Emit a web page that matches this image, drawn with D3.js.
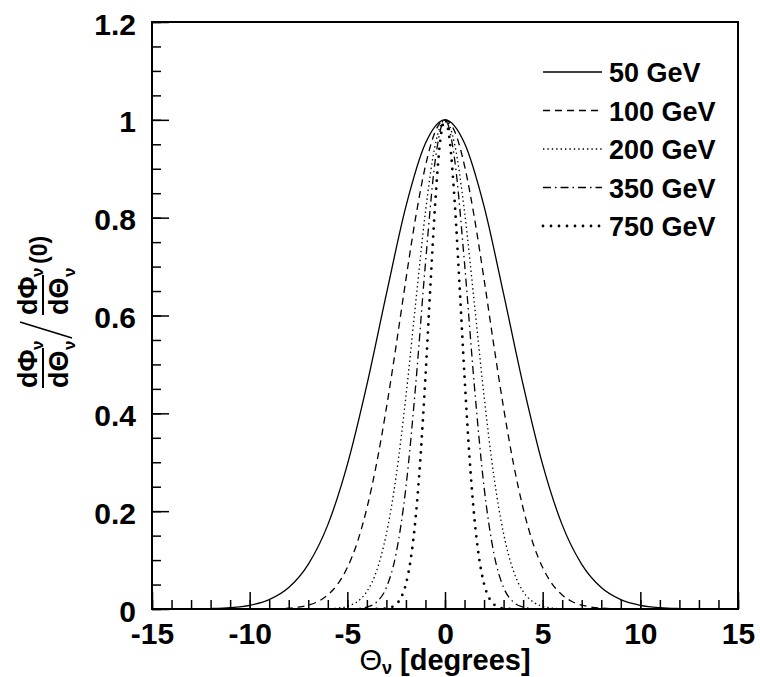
<!DOCTYPE html>
<html>
<head>
<meta charset="utf-8">
<script src="https://cdn.jsdelivr.net/npm/d3@7"></script>
<style>
  body { margin: 0; background: #fff; }
  text { font-family: "Liberation Sans", Arial, sans-serif; font-weight: bold; fill: #000; }
</style>
</head>
<body>
<div id="chart"></div>
<script>
// neutrino energies (legend labels)
const energies = ['50 GeV', '100 GeV', '200 GeV', '350 GeV', '750 GeV'];

// angle [deg] and normalised flux
const theta50 = [-15, -14, -13, -12, -11, -10, -9, -8, -7, -6, -5, -4, -3, -2, -1, 0,
  1, 2, 3, 4, 5, 6, 7, 8, 9, 10, 11, 12, 13, 14, 15];
const flux50 = [0, 0.0001, 0.0003, 0.0009, 0.0027, 0.0076, 0.0192, 0.0439, 0.0914, 0.172, 0.295, 0.458, 0.644, 0.823, 0.952, 1,
  0.952, 0.823, 0.644, 0.458, 0.295, 0.172, 0.0914, 0.0439, 0.0192, 0.0076, 0.0027, 0.0009, 0.0003, 0.0001, 0];

const theta100 = [-10, -9, -8, -7.5, -7, -6.5, -6, -5.5, -5, -4.5, -4, -3.5, -3, -2.5, -2, -1.5, -1, -0.5, 0,
  0.5, 1, 1.5, 2, 2.5, 3, 3.5, 4, 4.5, 5, 5.5, 6, 6.5, 7, 7.5, 8, 9, 10];
const flux100 = [0, 0.0003, 0.0018, 0.0039, 0.0079, 0.0154, 0.0286, 0.0504, 0.0847, 0.135, 0.206, 0.298, 0.411, 0.539, 0.674, 0.801, 0.906, 0.976, 1,
  0.976, 0.906, 0.801, 0.674, 0.539, 0.411, 0.298, 0.206, 0.135, 0.0847, 0.0504, 0.0286, 0.0154, 0.0079, 0.0039, 0.0018, 0.0003, 0];

const theta200 = [-7, -6, -5.5, -5, -4.5, -4, -3.5, -3, -2.5, -2, -1.5, -1, -0.5, 0,
  0.5, 1, 1.5, 2, 2.5, 3, 3.5, 4, 4.5, 5, 5.5, 6, 7];
const flux200 = [0, 0.0006, 0.0018, 0.0055, 0.0148, 0.0358, 0.0781, 0.154, 0.272, 0.435, 0.626, 0.812, 0.949, 1,
  0.949, 0.812, 0.626, 0.435, 0.272, 0.154, 0.0781, 0.0358, 0.0148, 0.0055, 0.0018, 0.0006, 0];

const theta350 = [-5, -4.5, -4, -3.5, -3, -2.5, -2, -1.5, -1, -0.5, 0,
  0.5, 1, 1.5, 2, 2.5, 3, 3.5, 4, 4.5, 5];
const flux350 = [0.0002, 0.0009, 0.0039, 0.0142, 0.0439, 0.114, 0.249, 0.458, 0.707, 0.917, 1,
  0.917, 0.707, 0.458, 0.249, 0.114, 0.0439, 0.0142, 0.0039, 0.0009, 0.0002];

const theta750 = [-3.5, -3, -2.75, -2.5, -2.25, -2, -1.75, -1.5, -1.25, -1, -0.75, -0.5, -0.25, 0,
  0.25, 0.5, 0.75, 1, 1.25, 1.5, 1.75, 2, 2.25, 2.5, 2.75, 3, 3.5];
const flux750 = [0.0001, 0.0012, 0.0036, 0.0096, 0.0232, 0.0511, 0.103, 0.188, 0.313, 0.475, 0.658, 0.830, 0.955, 1,
  0.955, 0.830, 0.658, 0.475, 0.313, 0.188, 0.103, 0.0511, 0.0232, 0.0096, 0.0036, 0.0012, 0.0001];

// axis ticks
const xTicks = [-15, -10, -5, 0, 5, 10, 15];
const xTickLabels = ['-15', '-10', '-5', '0', '5', '10', '15'];
const yTicks = [0, 0.2, 0.4, 0.6, 0.8, 1, 1.2];
const yTickLabels = ['0', '0.2', '0.4', '0.6', '0.8', '1', '1.2'];

const series = [
  { theta: theta50, flux: flux50 },
  { theta: theta100, flux: flux100 },
  { theta: theta200, flux: flux200 },
  { theta: theta350, flux: flux350 },
  { theta: theta750, flux: flux750 }
];

// line styles, same order as energies
const lineStyles = [
  { dash: null, w: 1.3, cap: 'butt' },
  { dash: '7,5', w: 1.3, cap: 'butt' },
  { dash: '1.4,3', w: 1.3, cap: 'butt' },
  { dash: '8,4,1.5,4', w: 1.3, cap: 'butt' },
  { dash: '0,8', w: 2.8, cap: 'round' }
];

const width = 760;
const height = 677;
const margin = { top: 22, right: 22, bottom: 68, left: 152 };

const svg = d3.select('#chart')
  .append('svg')
  .attr('width', width)
  .attr('height', height);

const x = d3.scaleLinear()
  .domain([-15, 15])
  .range([margin.left, width - margin.right]);

const y = d3.scaleLinear()
  .domain([0, 1.2])
  .range([height - margin.bottom, margin.top]);

svg.append('clipPath').attr('id', 'plot')
  .append('rect')
  .attr('x', x(-15)).attr('y', y(1.2))
  .attr('width', x(15) - x(-15)).attr('height', y(0) - y(1.2));

// curves
const line = d3.line()
  .x(d => x(d[0]))
  .y(d => y(d[1]))
  .curve(d3.curveMonotoneX);

svg.append('g')
  .attr('clip-path', 'url(#plot)')
  .selectAll('path')
  .data(series)
  .join('path')
    .attr('d', s => line(s.theta.map((t, i) => [t, s.flux[i]])))
    .attr('fill', 'none')
    .attr('stroke', '#000')
    .attr('stroke-width', (s, i) => lineStyles[i].w)
    .attr('stroke-linecap', (s, i) => lineStyles[i].cap)
    .attr('stroke-dasharray', (s, i) => lineStyles[i].dash);

// axes, ROOT style: ticks pointing inwards
function xAxis(g) {
  g.attr('transform', `translate(0,${y(0)})`)
    .call(d3.axisBottom(x).tickValues(d3.range(-15, 16, 1)).tickSize(-9).tickFormat(''))
    .call(g => g.select('.domain').remove());
  g.append('g')
    .call(d3.axisBottom(x).tickValues(xTicks).tickSize(-17).tickPadding(14)
      .tickFormat((d, i) => xTickLabels[i]))
    .attr('font-size', '30px')
    .call(g => g.select('.domain').remove());
}

function yAxis(g) {
  g.attr('transform', `translate(${x(-15)},0)`)
    .call(d3.axisLeft(y).tickValues(d3.range(0, 1.2001, 0.05)).tickSize(-9).tickFormat(''))
    .call(g => g.select('.domain').remove());
  g.append('g')
    .call(d3.axisLeft(y).tickValues(yTicks).tickSize(-17).tickPadding(16)
      .tickFormat((d, i) => yTickLabels[i]))
    .attr('font-size', '30px')
    .call(g => g.select('.domain').remove())
    .call(g => g.selectAll('text').attr('dy', '0.4em'));
}

svg.append('g').call(xAxis);
svg.append('g').call(yAxis);
svg.selectAll('.tick line').attr('stroke', '#000').attr('stroke-width', 1.5);
svg.selectAll('.tick text').attr('font-family', '"Liberation Sans", Arial, sans-serif').attr('font-weight', 'bold').attr('fill', '#000');

// frame
svg.append('rect')
  .attr('x', x(-15)).attr('y', y(1.2))
  .attr('width', x(15) - x(-15)).attr('height', y(0) - y(1.2))
  .attr('fill', 'none')
  .attr('stroke', '#000')
  .attr('stroke-width', 2);

// legend
const legend = svg.append('g')
  .selectAll('g')
  .data(energies)
  .join('g')
    .attr('transform', (d, i) => `translate(543,${72 + i * 38.5})`);

legend.append('line')
  .attr('x1', 0).attr('x2', 59)
  .attr('stroke', '#000')
  .attr('stroke-width', (d, i) => lineStyles[i].w)
  .attr('stroke-linecap', (d, i) => lineStyles[i].cap)
  .attr('stroke-dasharray', (d, i) => lineStyles[i].dash);

legend.append('text')
  .attr('x', 66).attr('y', 10)
  .attr('font-size', '27px')
  .text(d => d);

// x title
const xt = svg.append('text')
  .attr('x', x(0)).attr('y', 670)
  .attr('text-anchor', 'middle')
  .attr('font-size', '29px');
xt.append('tspan').attr('font-weight', 'normal').text('Θ');
xt.append('tspan').attr('font-size', '18px').attr('dy', 4).text('ν');
xt.append('tspan').attr('dy', -4).text(' [degrees]');

// y title: two fractions, rotated
const yt = svg.append('g').attr('transform', 'rotate(-90)');

function frac(g, x0, len) {
  g.append('text').attr('x', x0).attr('y', 37).attr('font-size', '27px').text('dΦ');
  g.append('text').attr('x', x0 + len).attr('y', 43).attr('font-size', '17px').text('ν');
  g.append('line').attr('x1', x0).attr('x2', x0 + len + 2)
    .attr('y1', 43).attr('y2', 43).attr('stroke', '#000').attr('stroke-width', 2);
  g.append('text').attr('x', x0).attr('y', 68).attr('font-size', '27px').text('dΘ');
  g.append('text').attr('x', x0 + len).attr('y', 75).attr('font-size', '17px').text('ν');
}

frac(yt, -388, 38);
yt.append('line')
  .attr('x1', -322).attr('y1', 20).attr('x2', -338).attr('y2', 72)
  .attr('stroke', '#000').attr('stroke-width', 1.8);
frac(yt, -315, 38);
yt.append('text').attr('x', -264).attr('y', 47).attr('font-size', '23px').text('(0)');
</script>
</body>
</html>
